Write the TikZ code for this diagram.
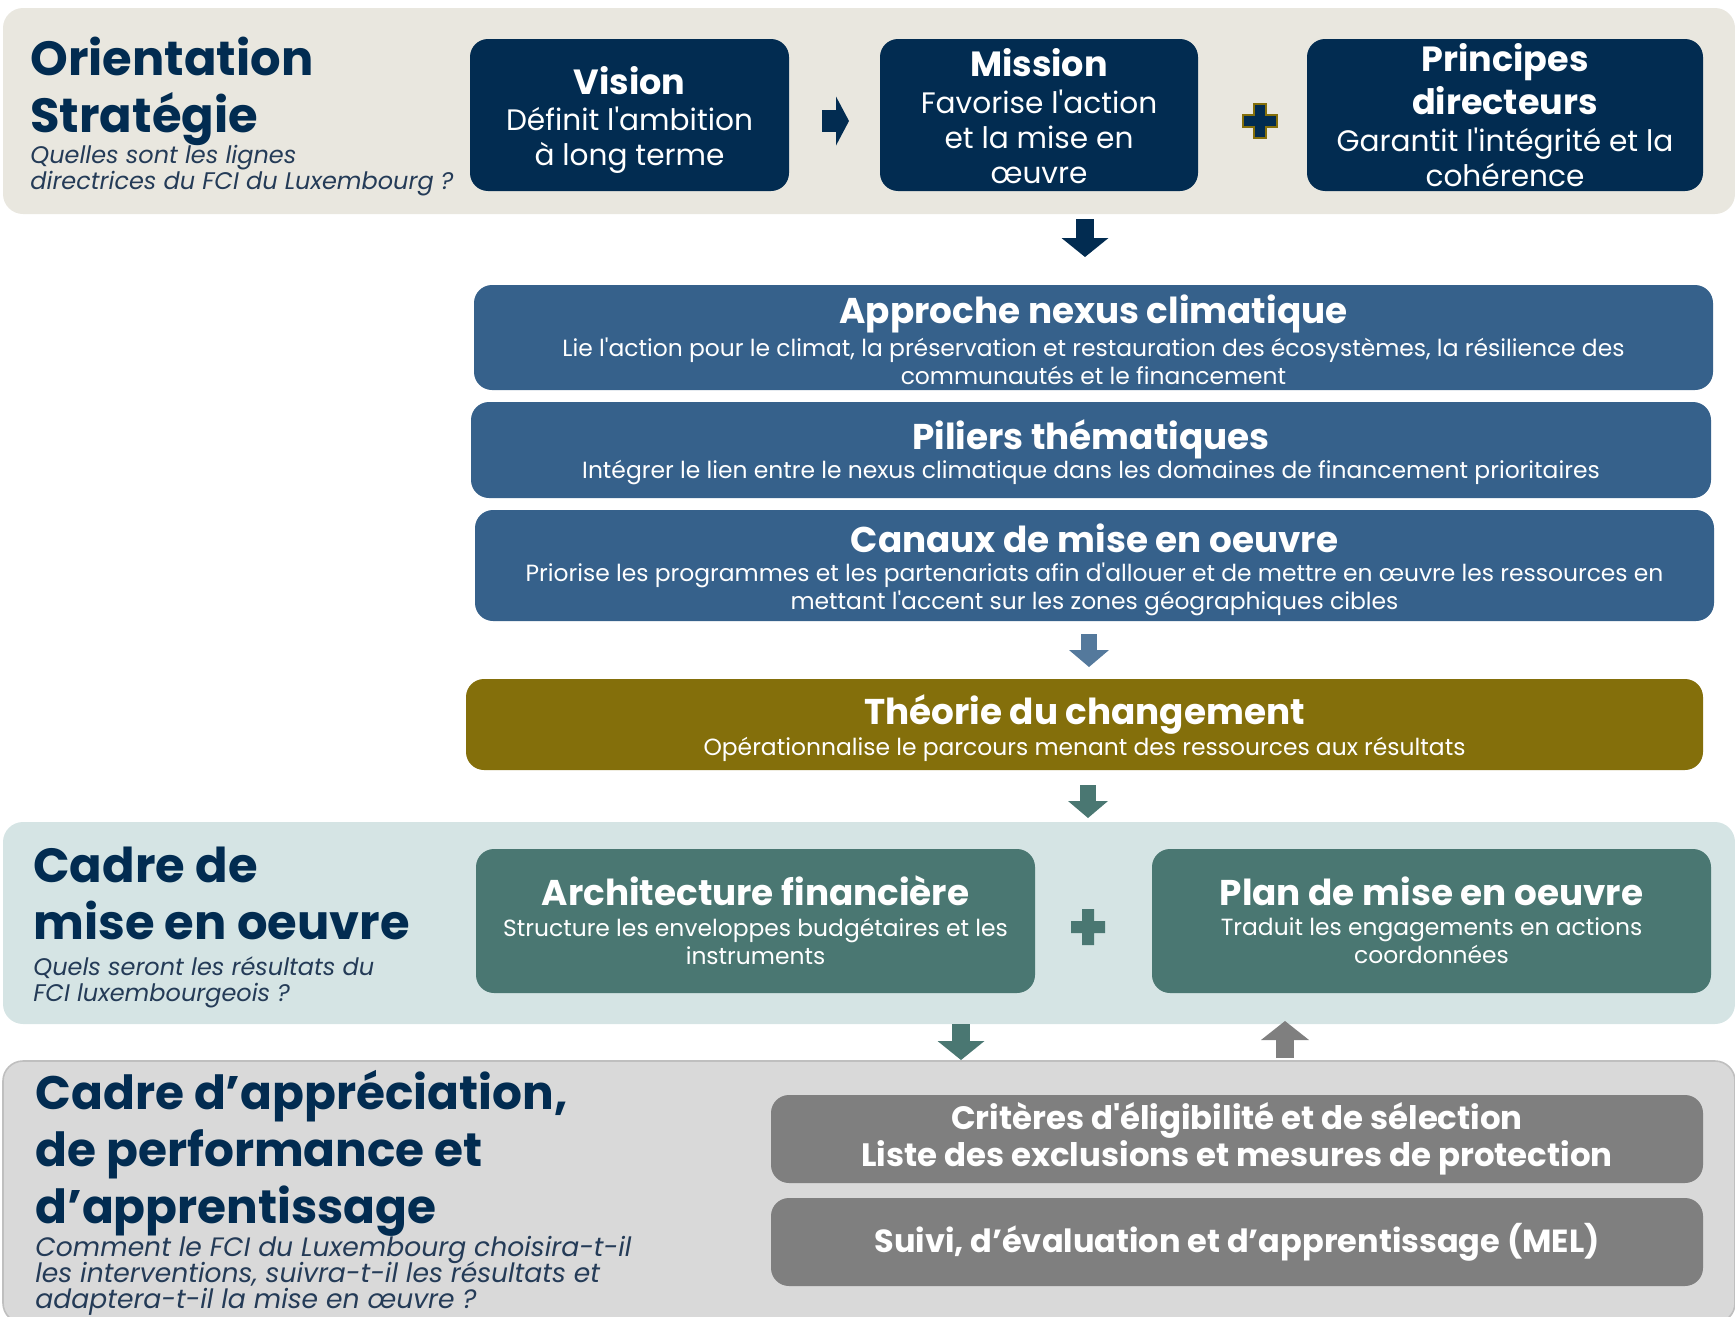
\documentclass[tikz,border=0pt]{standalone}
\usepackage{fontspec}
\setmainfont{Poppins}[Ligatures=TeXOff]
\usetikzlibrary{arrows.meta}
\definecolor{navy}{HTML}{022C51}
\definecolor{steel}{HTML}{36618B}
\definecolor{olive}{HTML}{846F0B}
\definecolor{teal}{HTML}{4A7772}
\definecolor{grbox}{HTML}{7F7F7F}
\definecolor{bandA}{HTML}{E9E7DF}
\definecolor{bandB}{HTML}{D5E4E4}
\definecolor{bandC}{HTML}{D9D9D9}
\definecolor{itx}{HTML}{243B57}
\newcommand\qfontA{\itshape\fontsize{12}{13}\selectfont\setlength{\lineskiplimit}{-20pt}}
\newcommand\qfontB{\itshape\fontsize{13.3}{13}\selectfont\setlength{\lineskiplimit}{-20pt}}
\begin{document}
\begin{tikzpicture}[x=0.5pt,y=-0.5pt,
  sz/.style 2 args={minimum width=#1*0.5pt, minimum height=#2*0.5pt},
  band/.style={rounded corners=10pt, inner sep=0pt, anchor=center},
  bx/.style={rounded corners=9pt, inner sep=0pt, anchor=center},
  bigtitle/.style={anchor=north west, inner sep=0pt, align=left, text=navy, font=\bfseries\fontsize{24}{28.5}\selectfont},
  question/.style={anchor=north west, inner sep=0pt, align=left, text=itx, font=\qfontA},
  ttlA/.style={inner sep=0pt, align=center, text=white, font=\bfseries\fontsize{17.5}{21.5}\selectfont},
  bodyA/.style={inner sep=0pt, align=center, text=white, font=\fontsize{14.8}{17.5}\selectfont},
  ttlB/.style={inner sep=0pt, align=center, text=white, font=\bfseries\fontsize{17.9}{20}\selectfont},
  bodyB/.style={inner sep=0pt, align=center, text=white, font=\fontsize{11.7}{14}\selectfont},
  ttlC/.style={inner sep=0pt, align=center, text=white, font=\bfseries\fontsize{16.2}{18.5}\selectfont},
  blk/.style args={#1/#2/#3}{line width=#1, -{Triangle[length=#2, width=#3, line width=0pt]}},
]
\useasboundingbox (0,0) rectangle (1735,1317);

% ---------- bands ----------
\node[band, fill=bandA, sz={1732}{206}] (band1) at (869,111) {};
\node[band, fill=bandB, sz={1732}{202}] (band2) at (869,923) {};
\node[band, fill=bandC, draw=black!25, line width=0.8pt, sz={1732}{262}] (band3) at (869,1192) {};

% ---------- band 1 ----------
\node[bigtitle] (t1) at (30,37) {Orientation\\Stratégie};
\node[question] (q1) at (30,145) {Quelles sont les lignes\\directrices du FCI du Luxembourg ?};

\node[bx, fill=navy, sz={319}{152}] (vision) at (629.5,115) {};
\node[ttlA] (visiont) at (629.5,81) {Vision};
\node[bodyA] (visionb) at (629.5,140) {Définit l'ambition\\à long terme};

\node[bx, fill=navy, sz={318}{152}] (mission) at (1039,115) {};
\node[ttlA] (missiont) at (1039,63) {Mission};
\node[bodyA] (missionb) at (1039,137) {Favorise l'action\\et la mise en\\œuvre};

\node[bx, fill=navy, sz={396}{152}] (princ) at (1505,115) {};
\node[ttlA] (princt) at (1505,79) {Principes\\directeurs};
\node[bodyA] (princb) at (1505,157) {Garantit l'intégrité et la\\cohérence};

% right arrow vision -> mission
\coordinate (r1s) at (822,121);
\coordinate (r1e) at (849,121);
\draw[blk={11pt/6.5pt/24.5pt}, navy] (r1s) -- (r1e);

% plus
\coordinate (plus1) at (1260,121);
\filldraw[fill=navy, draw=olive, line width=0.7pt] (plus1) ++(-6,-17) -- ++(12,0) -- ++(0,11) -- ++(11,0) -- ++(0,12) -- ++(-11,0) -- ++(0,11) -- ++(-12,0) -- ++(0,-11) -- ++(-11,0) -- ++(0,-12) -- ++(11,0) -- cycle;

% down arrow band1 -> appr
\coordinate (a1s) at (1085,219);
\coordinate (a1e) at (1085,257);
\draw[blk={9pt/9.5pt/23.5pt}, navy] (a1s) -- (a1e);

% ---------- strategy boxes ----------
\node[bx, fill=steel, sz={1239}{105}] (appr) at (1093.5,337.5) {};
\node[ttlB] (apprt) at (1093.5,314) {Approche nexus climatique};
\node[bodyB] (apprb) at (1093.5,361) {Lie l'action pour le climat, la préservation et restauration des écosystèmes, la résilience des\\communautés et le financement};

\node[bx, fill=steel, sz={1240}{96}] (pil) at (1091,450) {};
\node[ttlB] (pilt) at (1091,439) {Piliers thématiques};
\node[bodyB] (pilb) at (1091,473) {Intégrer le lien entre le nexus climatique dans les domaines de financement prioritaires};

\node[bx, fill=steel, sz={1239}{111}] (can) at (1094.5,565.5) {};
\node[ttlB] (cant) at (1094.5,538) {Canaux de mise en oeuvre};
\node[bodyB] (canb) at (1094.5,589) {Priorise les programmes et les partenariats afin d'allouer et de mettre en œuvre les ressources en\\mettant l'accent sur les zones géographiques cibles};

\coordinate (a2s) at (1089,634);
\coordinate (a2e) at (1089,667);
\draw[blk={8pt/8.5pt/20pt}, steel!85!white] (a2s) -- (a2e);

\node[bx, fill=olive, sz={1237}{91}] (theo) at (1084.5,724.5) {};
\node[ttlB] (theot) at (1084.5,714) {Théorie du changement};
\node[bodyB] (theob) at (1084.5,749) {Opérationnalise le parcours menant des ressources aux résultats};

\coordinate (a3s) at (1088,785);
\coordinate (a3e) at (1088,818);
\draw[blk={8pt/8.5pt/20pt}, teal] (a3s) -- (a3e);

% ---------- band 2 ----------
\node[bigtitle] (t2) at (33,847) {Cadre de\\mise en oeuvre};
\node[question] (q2) at (33,956) {Quels seront les résultats du\\FCI luxembourgeois ?};

\node[bx, fill=teal, sz={559}{144}] (arch) at (755.5,921) {};
\node[ttlB] (archt) at (755.5,891) {Architecture financière};
\node[bodyB] (archb) at (755.5,941) {Structure les enveloppes budgétaires et les\\instruments};

\coordinate (plus2) at (1088,927);
\fill[teal] (plus2) ++(-6,-18) -- ++(12,0) -- ++(0,12) -- ++(11,0) -- ++(0,12) -- ++(-11,0) -- ++(0,12) -- ++(-12,0) -- ++(0,-12) -- ++(-11,0) -- ++(0,-12) -- ++(11,0) -- cycle;

\node[bx, fill=teal, sz={559}{144}] (plan) at (1431.5,921) {};
\node[ttlB] (plant) at (1431.5,891) {Plan de mise en oeuvre};
\node[bodyB] (planb) at (1431.5,941) {Traduit les engagements en actions\\coordonnées};

\coordinate (a4s) at (961,1024);
\coordinate (a4e) at (961,1060);
\draw[blk={9pt/9.5pt/23.5pt}, teal] (a4s) -- (a4e);

\coordinate (a5s) at (1285,1058);
\coordinate (a5e) at (1285,1021);
\draw[blk={9pt/9.5pt/24pt}, grbox] (a5s) -- (a5e);

% ---------- band 3 ----------
\node[bigtitle, font=\bfseries\fontsize{23.5}{28.5}\selectfont] (t3) at (35,1070) {Cadre d’appréciation,\\de performance et\\d’apprentissage};
\node[question, font=\qfontB] (q3) at (35,1236) {Comment le FCI du Luxembourg choisira-t-il\\les interventions, suivra-t-il les résultats et\\adaptera-t-il la mise en œuvre ?};

\node[bx, fill=grbox, sz={932}{88}] (crit) at (1237,1139) {};
\node[ttlC] (critt) at (1237,1139) {Critères d'éligibilité et de sélection\\Liste des exclusions et mesures de protection};

\node[bx, fill=grbox, sz={932}{88}] (suivi) at (1237,1242) {};
\node[ttlC, font=\bfseries\fontsize{16}{18.5}\selectfont] (suivit) at (1237,1242) {Suivi, d’évaluation et d’apprentissage (MEL)};
\end{tikzpicture}
\end{document}
